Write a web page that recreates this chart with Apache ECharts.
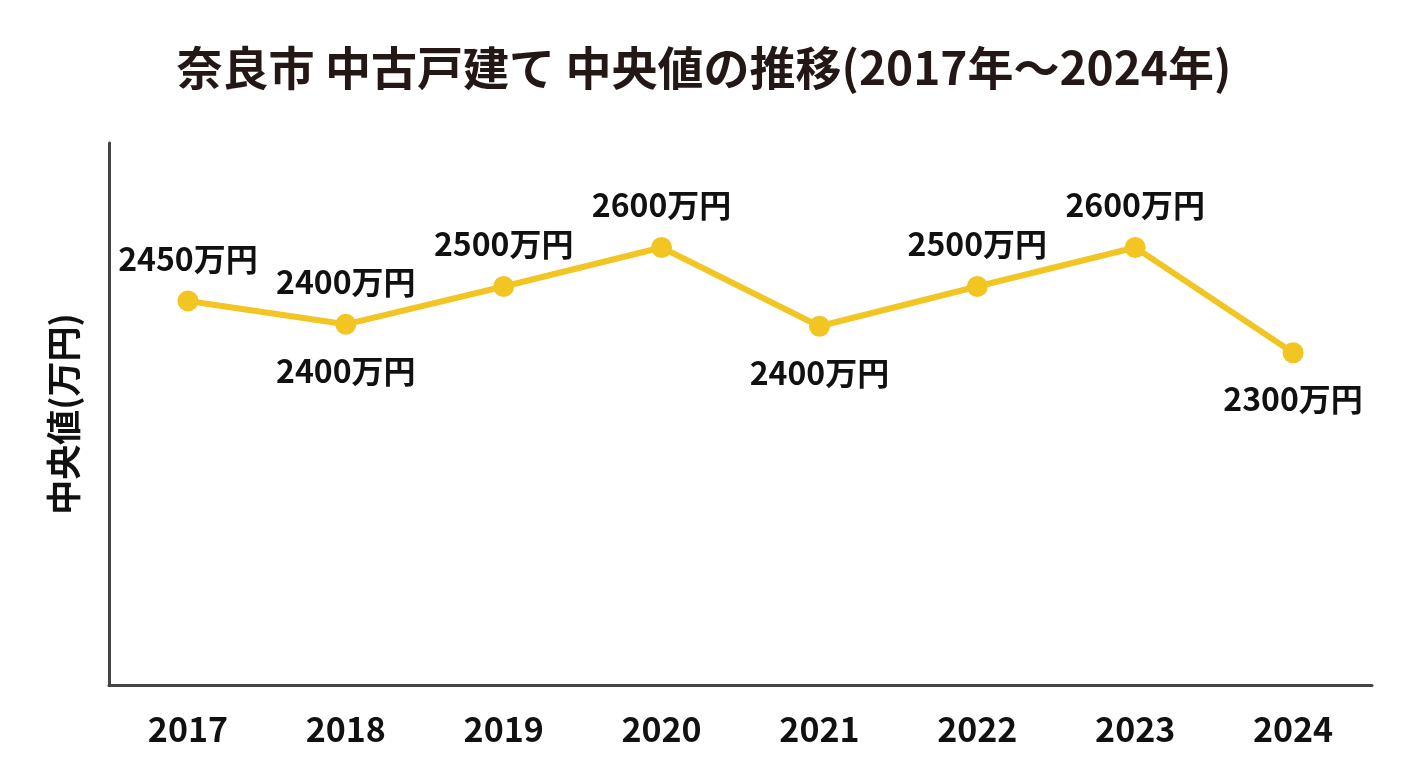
<!DOCTYPE html>
<html>
<head>
<meta charset="utf-8">
<script src="https://cdn.jsdelivr.net/npm/echarts@6/dist/echarts.min.js"></script>
<style>
html,body{margin:0;padding:0;background:#fff;}
#main{width:1408px;height:768px;}
</style>
</head>
<body>
<div id="main"></div>
<script>
const titleText = '奈良市 中古戸建て 中央値の推移(2017年〜2024年)';
const yAxisName = '中央値(万円)';
const years = ['2017','2018','2019','2020','2021','2022','2023','2024'];
// plotted positions
const medianValues = [2465, 2405, 2502, 2602, 2400, 2502, 2602, 2332];
// label texts as printed
const labelTexts = ['2450万円','2400万円','2500万円','2600万円','2400万円','2500万円','2600万円','2300万円'];
// which labels are above / below the point
const labelsAbove = [true, true, true, true, false, true, true, false];
const labelsBelow = [false, true, false, false, true, false, false, true];

const FONT = '"Noto Sans CJK JP", "Noto Sans", sans-serif';
const TXT = '#111';
const LINE = '#F2C523';

const labelStyle = {
  show: true,
  fontFamily: FONT,
  fontSize: 32,
  fontWeight: 'bold',
  color: TXT
};

const mainData = medianValues.map((v, i) => ({
  value: v,
  label: labelsAbove[i]
    ? Object.assign({}, labelStyle, {position: 'top', distance: 16, formatter: labelTexts[i]})
    : {show: false}
}));
const belowData = [];
medianValues.forEach((v, i) => {
  if (labelsBelow[i]) {
    belowData.push({
      value: [years[i], v],
      label: Object.assign({}, labelStyle, {position: 'bottom', distance: 30, formatter: labelTexts[i]})
    });
  }
});

const chart = echarts.init(document.getElementById('main'));
chart.setOption({
  backgroundColor: '#fff',
  animation: false,
  title: {
    text: titleText,
    left: 'center',
    top: 40,
    textStyle: {fontFamily: FONT, fontSize: 46, fontWeight: 'bold', color: '#231815'}
  },
  grid: {left: 109, right: 36, top: 143, bottom: 83},
  xAxis: {
    type: 'category',
    data: years,
    boundaryGap: true,
    axisLine: {lineStyle: {color: '#444', width: 3}},
    axisTick: {show: false},
    axisLabel: {fontFamily: FONT, fontSize: 34, fontWeight: 'bold', color: TXT, margin: 27}
  },
  yAxis: {
    type: 'value',
    min: 1480,
    max: 2870,
    name: yAxisName,
    nameLocation: 'middle',
    nameGap: 28,
    nameTextStyle: {fontFamily: FONT, fontSize: 35, fontWeight: 'bold', color: TXT},
    axisLine: {show: true, lineStyle: {color: '#444', width: 3}},
    axisTick: {show: false},
    axisLabel: {show: false},
    splitLine: {show: false}
  },
  series: [
    {
      type: 'line',
      data: mainData,
      symbol: 'circle',
      symbolSize: 21,
      itemStyle: {color: LINE},
      lineStyle: {color: LINE, width: 6},
      z: 3
    },
    {
      type: 'scatter',
      data: belowData,
      symbol: 'circle',
      symbolSize: 1,
      itemStyle: {color: 'rgba(0,0,0,0)', opacity: 1},
      z: 4
    }
  ]
});
</script>
</body>
</html>
